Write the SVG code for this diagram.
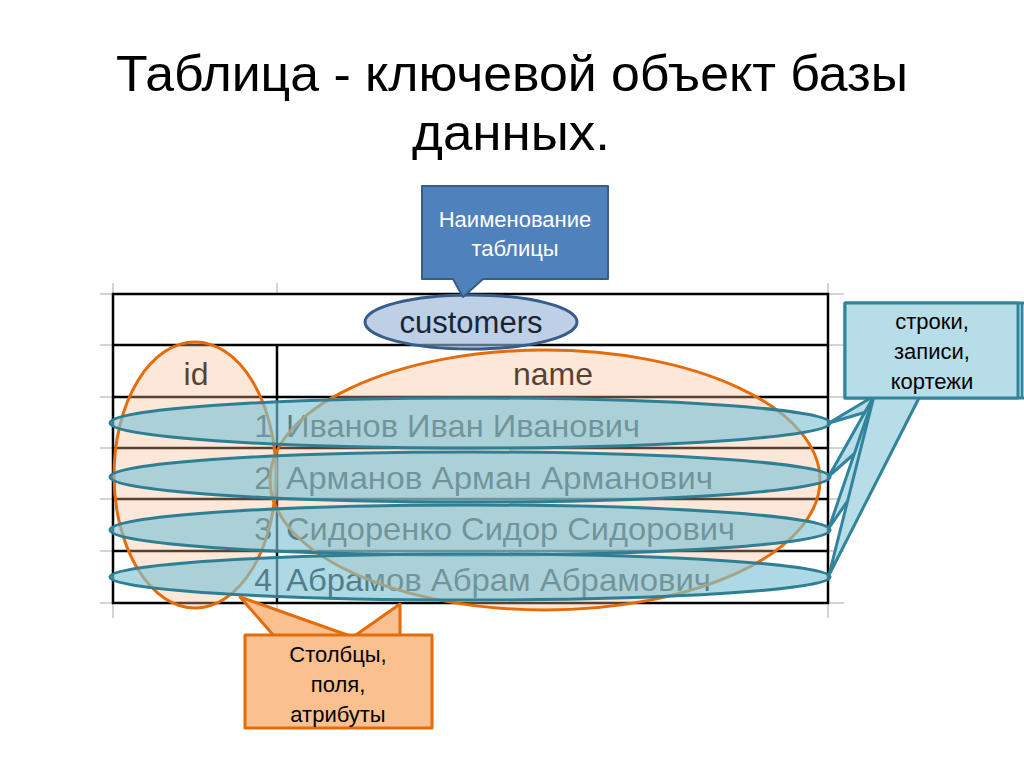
<svg xmlns="http://www.w3.org/2000/svg" width="1024" height="767" viewBox="0 0 1024 767">
<style>
.tick{stroke:#D4D4D4;stroke-width:2;fill:none}
.grid{stroke:#000;stroke-width:2.5;fill:none}
.title{font-family:"Liberation Sans",Arial,sans-serif;font-size:50px;fill:#000}
.cell{font-family:"Liberation Sans",Arial,sans-serif;font-size:32px;fill:#000}
.oell{fill:#F9B98F;fill-opacity:0.35;stroke:#E46C0A;stroke-width:3}
.bell{fill:#7EC3D6;fill-opacity:0.64;stroke:#2E7F94;stroke-width:3}
.ctext{font-family:"Liberation Sans",Arial,sans-serif;font-size:22px;text-anchor:middle}
.tcall{fill:#B7DEE8;stroke:#31849B;stroke-width:3;stroke-linejoin:round}
.ocall{fill:#FAC090;stroke:#E46C0A;stroke-width:3;stroke-linejoin:round}
</style>
<rect width="1024" height="767" fill="#fff"/>
<g id="title">
<text class="title" x="116" y="91" textLength="792" lengthAdjust="spacingAndGlyphs">Таблица - ключевой объект базы</text>
<text class="title" x="412" y="150" textLength="198" lengthAdjust="spacingAndGlyphs">данных.</text>
</g>
<g id="grid-ticks">
<path class="tick" d="M100 294H113M100 345H113M100 397H113M100 448H113M100 499H113M100 551H113M100 603H113M828 294H844M828 345H844M828 397H844M828 448H844M828 499H844M828 551H844M828 603H844M113 283V294M277 283V294M828 283V294M113 603V618M277 603V618M828 603V618"/>
</g>
<g id="table">
<rect class="grid" x="113" y="294" width="715" height="309"/>
<path class="grid" d="M113 345H828M113 397H828M113 448H828M113 499H828M113 551H828M277 345V603"/>
<text class="cell" x="196" y="385" text-anchor="middle">id</text>
<text class="cell" x="553" y="385" text-anchor="middle">name</text>
<text class="cell" x="272" y="437" text-anchor="end">1</text>
<text class="cell" x="286" y="437" textLength="354" lengthAdjust="spacingAndGlyphs">Иванов Иван Иванович</text>
<text class="cell" x="272" y="489" text-anchor="end">2</text>
<text class="cell" x="286" y="489" textLength="427" lengthAdjust="spacingAndGlyphs">Арманов Арман Арманович</text>
<text class="cell" x="272" y="540" text-anchor="end">3</text>
<text class="cell" x="286" y="540" textLength="449" lengthAdjust="spacingAndGlyphs">Сидоренко Сидор Сидорович</text>
<text class="cell" x="272" y="591" text-anchor="end">4</text>
<text class="cell" x="286" y="591" textLength="425" lengthAdjust="spacingAndGlyphs">Абрамов Абрам Абрамович</text>
</g>
<g id="columns-highlight">
<ellipse class="oell" cx="195" cy="475" rx="81" ry="133"/>
<ellipse class="oell" cx="545" cy="480" rx="275" ry="130"/>
</g>
<g id="rows-highlight">
<ellipse class="bell" cx="470" cy="423" rx="360" ry="25"/>
<ellipse class="bell" cx="470" cy="477" rx="360" ry="25"/>
<ellipse class="bell" cx="470" cy="530" rx="360" ry="25"/>
<ellipse class="bell" cx="470" cy="577" rx="360" ry="23"/>
</g>
<g id="table-name">
<ellipse cx="471" cy="322" rx="106" ry="27" fill="#95B3D7" fill-opacity="0.62" stroke="#385D8A" stroke-width="3"/>
<text x="471" y="333" text-anchor="middle" font-family="Liberation Sans, Arial, sans-serif" font-size="31" fill="#1A2438">customers</text>
</g>
<g id="callout-name">
<path d="M422 186H608V279H483L463 297L453 279H422Z" fill="#4F81BD" stroke="#385D8A" stroke-width="2" stroke-linejoin="round"/>
<text class="ctext" x="515" y="227" font-size="23" fill="#fff">Наименование</text>
<text class="ctext" x="515" y="256" font-size="23" fill="#fff">таблицы</text>
</g>
<g id="callout-rows">
<rect class="tcall" x="845" y="303" width="215" height="95"/>
<polygon class="tcall" points="874,396 920,396 829,423"/>
<polygon class="tcall" points="874,396 920,396 829,476"/>
<polygon class="tcall" points="874,396 920,396 829,528"/>
<polygon class="tcall" points="874,396 920,396 829,575"/>
<rect class="tcall" x="845" y="303" width="173" height="95"/>
<line x1="1022" y1="303" x2="1022" y2="398" stroke="#31849B" stroke-width="2.5"/>
<text class="ctext" x="932" y="329" fill="#000">строки,</text>
<text class="ctext" x="932" y="359" fill="#000">записи,</text>
<text class="ctext" x="932" y="389" fill="#000">кортежи</text>
</g>
<g id="callout-columns">
<polygon class="ocall" points="240,597 275,637 353,637"/>
<polygon class="ocall" points="400,604 353,637 400,637"/>
<rect class="ocall" x="245" y="635" width="187" height="93"/>
<text class="ctext" x="338" y="662" fill="#000">Столбцы,</text>
<text class="ctext" x="338" y="692" fill="#000">поля,</text>
<text class="ctext" x="338" y="722" fill="#000">атрибуты</text>
</g>
</svg>
